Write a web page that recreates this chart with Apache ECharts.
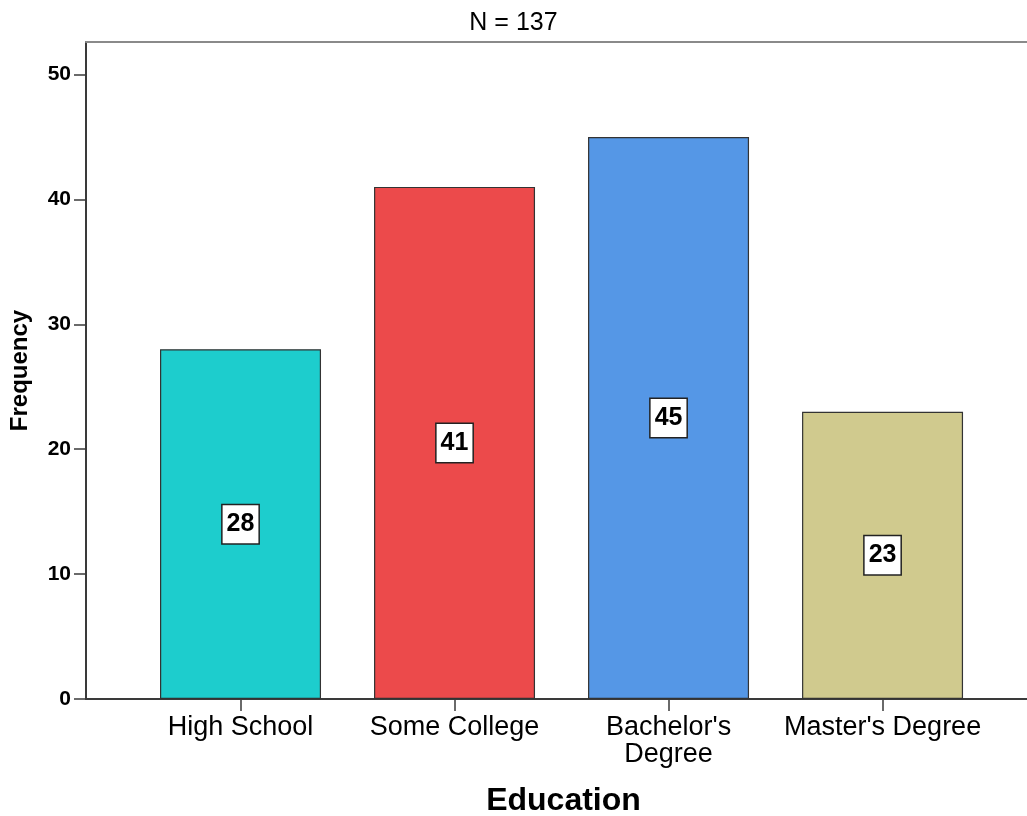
<!DOCTYPE html>
<html>
<head>
<meta charset="utf-8">
<title>Education</title>
<script src="https://cdn.jsdelivr.net/npm/echarts@6/dist/echarts.min.js"></script>
<style>
  html, body { margin: 0; padding: 0; background: #ffffff; }
  #chart { width: 1027px; height: 816px; }
</style>
</head>
<body>
<div id="chart"></div>
<script>
// Education level frequencies
const categories = ['High School', 'Some College', "Bachelor's\nDegree", "Master's Degree"];
const frequencies = [28, 41, 45, 23];
const barColors = ['#1dcdcd', '#ec4a4b', '#5597e6', '#d0ca8e'];
const yTicks = [0, 10, 20, 30, 40, 50];
const catPositions = categories.map((c, i) => i);
const totalN = frequencies.reduce((a, b) => a + b, 0);

const FONT = '"Liberation Sans", Arial, sans-serif';

const chart = echarts.init(document.getElementById('chart'), null, { renderer: 'canvas' });

chart.setOption({
  backgroundColor: '#ffffff',
  animation: false,
  title: {
    text: 'N = ' + totalN,
    left: 'center',
    top: 6,
    textStyle: { fontFamily: FONT, fontSize: 25, fontWeight: 'normal', color: '#000' }
  },
  grid: { left: 86, right: 0, top: 42, bottom: 117, containLabel: false, outerBoundsMode: 'none' },
  xAxis: [
    {
      type: 'value',
      min: -0.722,
      max: 3.675,
      position: 'bottom',
      splitLine: { show: false },
      axisLine: { show: true, onZero: false, lineStyle: { color: '#3a3a3a', width: 2 } },
      axisTick: { show: true, length: 12, customValues: catPositions, lineStyle: { color: '#3a3a3a', width: 1.5 } },
      axisLabel: {
        customValues: catPositions,
        formatter: (v) => categories[Math.round(v)],
        fontFamily: FONT,
        fontSize: 27,
        lineHeight: 27,
        color: '#000',
        margin: 15
      },
      name: 'Education',
      nameLocation: 'middle',
      nameGap: 86,
      nameTextStyle: { fontFamily: FONT, fontSize: 32, fontWeight: 'bold', color: '#000', padding: [0, 0, 0, 14] }
    },
    {
      type: 'value',
      min: -0.722,
      max: 3.675,
      position: 'top',
      splitLine: { show: false },
      axisLine: { show: true, onZero: false, lineStyle: { color: '#8a8a8a', width: 2 } },
      axisTick: { show: false },
      axisLabel: { show: false }
    }
  ],
  yAxis: {
    type: 'value',
    min: 0,
    max: 52.6,
    interval: 10,
    splitLine: { show: false },
    axisLine: { show: true, onZero: false, lineStyle: { color: '#3a3a3a', width: 2 } },
    axisTick: { show: true, length: 12, customValues: yTicks, lineStyle: { color: '#3a3a3a', width: 1.5 } },
    axisLabel: {
      customValues: yTicks,
      fontFamily: FONT,
      fontSize: 21,
      fontWeight: 'bold',
      color: '#000',
      margin: 15
    },
    name: 'Frequency',
    nameLocation: 'middle',
    nameGap: 54,
    nameRotate: 90,
    nameTextStyle: { fontFamily: FONT, fontSize: 24, fontWeight: 'bold', color: '#000' }
  },
  series: [
    {
      type: 'bar',
      xAxisIndex: 0,
      barWidth: 161,
      data: frequencies.map((v, i) => ({
        value: [i, v],
        itemStyle: { color: barColors[i], borderColor: '#333', borderWidth: 1.2 }
      })),
      label: {
        show: true,
        position: 'inside',
        formatter: (p) => String(p.value[1]),
        fontFamily: FONT,
        fontSize: 25,
        fontWeight: 'bold',
        color: '#000',
        backgroundColor: '#ffffff',
        borderColor: '#222',
        borderWidth: 1.5,
        lineHeight: 24,
        padding: [7, 4, 7, 4]
      }
    }
  ]
});
</script>
</body>
</html>
